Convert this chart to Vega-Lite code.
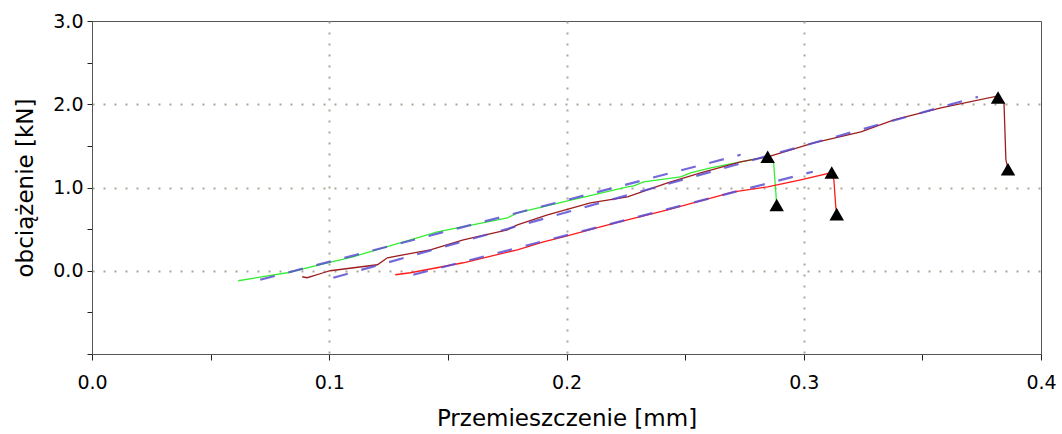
{
  "$schema": "https://vega.github.io/schema/vega-lite/v6.json",
  "autosize": {"type": "none"},
  "width": 949,
  "height": 333,
  "padding": {"left": 92, "top": 21, "right": 21, "bottom": 80},
  "background": "white",
  "config": {
    "view": {"stroke": "#555", "strokeWidth": 1},
    "font": "DejaVu Sans"
  },
  "data": {
    "values": [
      {"s": "A", "k": "curve", "i": 1, "x": 0.0616, "y": -0.12},
      {"s": "A", "k": "curve", "i": 2, "x": 0.0823, "y": -0.024},
      {"s": "A", "k": "curve", "i": 3, "x": 0.0992, "y": 0.096},
      {"s": "A", "k": "curve", "i": 4, "x": 0.110, "y": 0.168},
      {"s": "A", "k": "curve", "i": 5, "x": 0.1456, "y": 0.468},
      {"s": "A", "k": "curve", "i": 6, "x": 0.1751, "y": 0.636},
      {"s": "A", "k": "curve", "i": 7, "x": 0.1793, "y": 0.696},
      {"s": "A", "k": "curve", "i": 8, "x": 0.1987, "y": 0.828},
      {"s": "A", "k": "curve", "i": 9, "x": 0.2257, "y": 1.008},
      {"s": "A", "k": "curve", "i": 10, "x": 0.2283, "y": 1.02},
      {"s": "A", "k": "curve", "i": 11, "x": 0.2325, "y": 1.068},
      {"s": "A", "k": "curve", "i": 12, "x": 0.2481, "y": 1.128},
      {"s": "A", "k": "curve", "i": 13, "x": 0.2523, "y": 1.176},
      {"s": "A", "k": "curve", "i": 14, "x": 0.2608, "y": 1.236},
      {"s": "A", "k": "curve", "i": 15, "x": 0.2734, "y": 1.309},
      {"s": "A", "k": "curve", "i": 16, "x": 0.2848, "y": 1.369},
      {"s": "A", "k": "curve", "i": 17, "x": 0.2873, "y": 1.297},
      {"s": "A", "k": "curve", "i": 18, "x": 0.2886, "y": 0.80},

      {"s": "B", "k": "curve", "i": 1, "x": 0.0886, "y": -0.072},
      {"s": "B", "k": "curve", "i": 2, "x": 0.0907, "y": -0.084},
      {"s": "B", "k": "curve", "i": 3, "x": 0.0975, "y": -0.024},
      {"s": "B", "k": "curve", "i": 4, "x": 0.1004, "y": 0.0},
      {"s": "B", "k": "curve", "i": 5, "x": 0.1203, "y": 0.072},
      {"s": "B", "k": "curve", "i": 6, "x": 0.1245, "y": 0.156},
      {"s": "B", "k": "curve", "i": 7, "x": 0.1426, "y": 0.252},
      {"s": "B", "k": "curve", "i": 8, "x": 0.1565, "y": 0.372},
      {"s": "B", "k": "curve", "i": 9, "x": 0.1751, "y": 0.492},
      {"s": "B", "k": "curve", "i": 10, "x": 0.1793, "y": 0.552},
      {"s": "B", "k": "curve", "i": 11, "x": 0.1920, "y": 0.672},
      {"s": "B", "k": "curve", "i": 12, "x": 0.2101, "y": 0.816},
      {"s": "B", "k": "curve", "i": 13, "x": 0.2257, "y": 0.888},
      {"s": "B", "k": "curve", "i": 14, "x": 0.2426, "y": 1.056},
      {"s": "B", "k": "curve", "i": 15, "x": 0.2565, "y": 1.176},
      {"s": "B", "k": "curve", "i": 16, "x": 0.2734, "y": 1.309},
      {"s": "B", "k": "curve", "i": 17, "x": 0.2848, "y": 1.369},
      {"s": "B", "k": "curve", "i": 18, "x": 0.3042, "y": 1.537},
      {"s": "B", "k": "curve", "i": 19, "x": 0.3241, "y": 1.669},
      {"s": "B", "k": "curve", "i": 20, "x": 0.338, "y": 1.813},
      {"s": "B", "k": "curve", "i": 21, "x": 0.3578, "y": 1.957},
      {"s": "B", "k": "curve", "i": 22, "x": 0.3819, "y": 2.10},
      {"s": "B", "k": "curve", "i": 23, "x": 0.3844, "y": 2.017},
      {"s": "B", "k": "curve", "i": 24, "x": 0.3852, "y": 1.333},
      {"s": "B", "k": "curve", "i": 25, "x": 0.3861, "y": 1.22},

      {"s": "C", "k": "curve", "i": 1, "x": 0.1278, "y": -0.048},
      {"s": "C", "k": "curve", "i": 2, "x": 0.1342, "y": -0.024},
      {"s": "C", "k": "curve", "i": 3, "x": 0.1565, "y": 0.096},
      {"s": "C", "k": "curve", "i": 4, "x": 0.1793, "y": 0.252},
      {"s": "C", "k": "curve", "i": 5, "x": 0.1903, "y": 0.348},
      {"s": "C", "k": "curve", "i": 6, "x": 0.1987, "y": 0.408},
      {"s": "C", "k": "curve", "i": 7, "x": 0.2143, "y": 0.528},
      {"s": "C", "k": "curve", "i": 8, "x": 0.2257, "y": 0.612},
      {"s": "C", "k": "curve", "i": 9, "x": 0.2426, "y": 0.732},
      {"s": "C", "k": "curve", "i": 10, "x": 0.2565, "y": 0.840},
      {"s": "C", "k": "curve", "i": 11, "x": 0.2705, "y": 0.948},
      {"s": "C", "k": "curve", "i": 12, "x": 0.2848, "y": 1.008},
      {"s": "C", "k": "curve", "i": 13, "x": 0.2987, "y": 1.092},
      {"s": "C", "k": "curve", "i": 14, "x": 0.3114, "y": 1.176},
      {"s": "C", "k": "curve", "i": 15, "x": 0.3127, "y": 1.092},
      {"s": "C", "k": "curve", "i": 16, "x": 0.3135, "y": 0.768},
      {"s": "C", "k": "curve", "i": 17, "x": 0.3139, "y": 0.684},

      {"s": "A", "k": "fit", "i": 1, "x": 0.0709, "y": -0.108},
      {"s": "A", "k": "fit", "i": 2, "x": 0.2734, "y": 1.393},
      {"s": "B", "k": "fit", "i": 1, "x": 0.1017, "y": -0.084},
      {"s": "B", "k": "fit", "i": 2, "x": 0.3734, "y": 2.089},
      {"s": "C", "k": "fit", "i": 1, "x": 0.1354, "y": -0.048},
      {"s": "C", "k": "fit", "i": 2, "x": 0.3038, "y": 1.189},

      {"s": "A", "k": "mark", "i": 1, "x": 0.2848, "y": 1.37},
      {"s": "A", "k": "mark", "i": 2, "x": 0.2886, "y": 0.79},
      {"s": "B", "k": "mark", "i": 1, "x": 0.3819, "y": 2.08},
      {"s": "B", "k": "mark", "i": 2, "x": 0.3861, "y": 1.22},
      {"s": "C", "k": "mark", "i": 1, "x": 0.3118, "y": 1.18},
      {"s": "C", "k": "mark", "i": 2, "x": 0.3139, "y": 0.68}
    ]
  },
  "encoding": {
    "x": {
      "field": "x", "type": "quantitative",
      "scale": {"domain": [0, 0.4], "nice": false, "zero": false},
      "axis": {
        "title": "Przemieszczenie [mm]",
        "values": [0, 0.05, 0.1, 0.15, 0.2, 0.25, 0.3, 0.35, 0.4],
        "labelExpr": "abs(datum.value*10 - round(datum.value*10)) < 0.01 ? format(datum.value, '.1f') : ''",
        "labelFont": "DejaVu Sans", "labelFontSize": 19, "labelColor": "#000",
        "labelPadding": 13, "labelFlush": false, "labelOverlap": false,
        "titleFont": "DejaVu Sans", "titleFontSize": 23, "titleFontWeight": "normal", "titleColor": "#000",
        "titlePadding": 15,
        "domainColor": "#555", "tickColor": "#222", "tickSize": 6,
        "grid": true, "gridColor": "#a8a89a", "gridWidth": 2, "gridDash": [2, 9],
        "gridOpacity": {"condition": {"test": "datum.value > 0.01 && datum.value < 0.39 && abs(datum.value*10 - round(datum.value*10)) < 0.01", "value": 1}, "value": 0}
      }
    },
    "y": {
      "field": "y", "type": "quantitative",
      "scale": {"domain": [-1, 3], "nice": false, "zero": false},
      "axis": {
        "title": "obciążenie [kN]",
        "values": [-1, -0.5, 0, 0.5, 1, 1.5, 2, 2.5, 3],
        "labelExpr": "datum.value >= 0 && abs(datum.value - round(datum.value)) < 0.01 ? format(datum.value, '.1f') : ''",
        "labelFont": "DejaVu Sans", "labelFontSize": 19, "labelColor": "#000",
        "labelPadding": 4, "labelFlush": false, "labelOverlap": false,
        "titleFont": "DejaVu Sans", "titleFontSize": 23, "titleFontWeight": "normal", "titleColor": "#000",
        "titlePadding": 15,
        "domainColor": "#555", "tickColor": "#222", "tickSize": 5,
        "grid": true, "gridColor": "#a8a89a", "gridWidth": 2, "gridDash": [2, 9],
        "gridOpacity": {"condition": {"test": "datum.value > -0.01 && datum.value < 2.99 && abs(datum.value - round(datum.value)) < 0.01", "value": 1}, "value": 0}
      }
    }
  },
  "layer": [
    {
      "transform": [{"filter": "datum.k === 'curve'"}],
      "mark": {"type": "line", "strokeWidth": 1.3, "clip": true},
      "encoding": {
        "color": {"field": "s", "type": "nominal", "legend": null,
          "scale": {"domain": ["A", "B", "C"], "range": ["#33ee33", "#9c1f1f", "#ff1a1a"]}},
        "order": {"field": "i", "type": "quantitative"}
      }
    },
    {
      "transform": [{"filter": "datum.k === 'fit'"}],
      "mark": {"type": "line", "strokeWidth": 2.2, "color": "#5a4fd4", "opacity": 0.85, "strokeDash": [15, 14], "clip": true},
      "encoding": {
        "detail": {"field": "s", "type": "nominal"},
        "order": {"field": "i", "type": "quantitative"}
      }
    },
    {
      "transform": [{"filter": "datum.k === 'mark'"}],
      "mark": {"type": "point", "shape": "triangle-up", "filled": true, "color": "#000", "opacity": 1, "size": 210},
      "encoding": {}
    }
  ]
}
